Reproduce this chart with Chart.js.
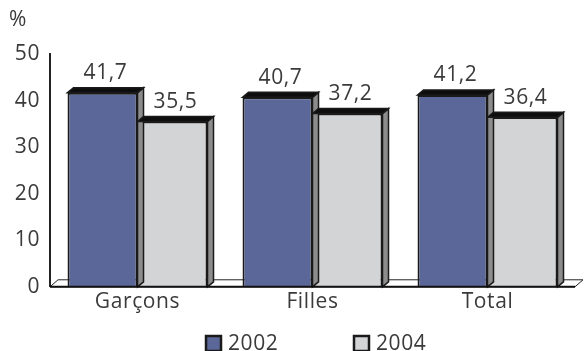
<!DOCTYPE html>
<html>
<head>
<meta charset="utf-8">
<script src="https://cdn.jsdelivr.net/npm/chart.js@4/dist/chart.umd.min.js"></script>
<style>
  html, body { margin: 0; padding: 0; background: #fff; }
  #wrap { width: 584px; height: 351px; position: relative; }
</style>
</head>
<body>
<div id="wrap"><canvas id="chart"></canvas></div>
<script>
const categories = ['Garçons', 'Filles', 'Total'];
const values2002 = [41.7, 40.7, 41.2];
const values2004 = [35.5, 37.2, 36.4];
const seriesLabels = ['2002', '2004'];

const FONT = "'Open Sans', 'DejaVu Sans', sans-serif";
const SIZE = 21;
const TEXT = '#3a3a3a';
const DX = 6, DY = 5; // depth offset for the 3d look

// draws floor, bar sides/tops, value labels and the legend
const depthPlugin = {
  id: 'depth',
  beforeDraw(chart) {
    chart.ctx.letterSpacing = '0.6px';
  },
  beforeDatasetsDraw(chart) {
    const { ctx, chartArea } = chart;
    const y0 = chart.scales.y.getPixelForValue(0);
    ctx.save();
    ctx.fillStyle = '#ffffff';
    ctx.strokeStyle = '#222';
    ctx.lineWidth = 1;
    ctx.beginPath();
    ctx.moveTo(chartArea.left, y0);
    ctx.lineTo(chartArea.left + DX + 2, y0 - DY - 2);
    ctx.lineTo(chartArea.right + DX + 2, y0 - DY - 2);
    ctx.lineTo(chartArea.right, y0);
    ctx.closePath();
    ctx.fill();
    ctx.stroke();
    ctx.restore();
  },
  afterDatasetsDraw(chart) {
    const { ctx } = chart;
    ctx.save();
    chart.data.datasets.forEach((ds, i) => {
      chart.getDatasetMeta(i).data.forEach((bar, j) => {
        const left = bar.x - bar.width / 2;
        const right = bar.x + bar.width / 2;
        const top = bar.y;
        const bottom = bar.base;
        ctx.lineWidth = 1.5;
        ctx.strokeStyle = '#1a1a1a';
        // side face
        ctx.fillStyle = '#8c8c8c';
        ctx.beginPath();
        ctx.moveTo(right, top);
        ctx.lineTo(right + DX, top - DY);
        ctx.lineTo(right + DX, bottom - DY);
        ctx.lineTo(right, bottom);
        ctx.closePath();
        ctx.fill();
        ctx.stroke();
        // top face
        ctx.fillStyle = '#0d0d0d';
        ctx.beginPath();
        ctx.moveTo(left, top);
        ctx.lineTo(left + DX, top - DY);
        ctx.lineTo(right + DX, top - DY);
        ctx.lineTo(right, top);
        ctx.closePath();
        ctx.fill();
        ctx.stroke();
        // value label
        ctx.fillStyle = TEXT;
        ctx.font = SIZE + 'px ' + FONT;
        ctx.textAlign = 'center';
        ctx.textBaseline = 'bottom';
        ctx.fillText(String(ds.data[j]).replace('.', ','), bar.x + 3, top - DY - 4);
      });
    });
    // bottom edge line
    const y0 = chart.scales.y.getPixelForValue(0);
    ctx.strokeStyle = '#111';
    ctx.lineWidth = 2;
    ctx.beginPath();
    ctx.moveTo(chart.chartArea.left, y0);
    ctx.lineTo(chart.chartArea.right, y0);
    ctx.stroke();
    // percent sign
    ctx.fillStyle = TEXT;
    ctx.font = SIZE + 'px ' + FONT;
    ctx.textAlign = 'left';
    ctx.textBaseline = 'middle';
    ctx.fillText('%', 9, 20);
    // legend
    const legendX = [206, 354];
    chart.data.datasets.forEach((ds, i) => {
      const x = legendX[i], y = 343;
      ctx.fillStyle = ds.backgroundColor;
      ctx.fillRect(x, y - 7, 15, 15);
      ctx.strokeStyle = '#1a1a1a';
      ctx.lineWidth = 2.5;
      ctx.strokeRect(x, y - 7, 15, 15);
      ctx.fillStyle = TEXT;
      ctx.textBaseline = 'middle';
      ctx.fillText(ds.label, x + 22, y + 1);
    });
    ctx.restore();
  }
};

new Chart(document.getElementById('chart'), {
  type: 'bar',
  data: {
    labels: categories,
    datasets: [
      {
        label: seriesLabels[0],
        data: values2002,
        backgroundColor: '#5b6799',
        borderColor: '#1a1a1a',
        borderWidth: 2
      },
      {
        label: seriesLabels[1],
        data: values2004,
        backgroundColor: '#d3d4d6',
        borderColor: '#1a1a1a',
        borderWidth: 2
      }
    ]
  },
  options: {
    responsive: true,
    maintainAspectRatio: false,
    animation: false,
    layout: { padding: { top: 54, right: 9, left: 6, bottom: 33 } },
    datasets: { bar: { categoryPercentage: 0.8, barPercentage: 1.0 } },
    scales: {
      x: {
        grid: { display: false, drawTicks: false },
        border: { display: false },
        ticks: { color: TEXT, font: { family: FONT, size: SIZE }, padding: 3 }
      },
      y: {
        min: 0,
        max: 50,
        grid: { display: false, drawTicks: false },
        border: { display: true, color: '#222', width: 2 },
        ticks: { stepSize: 10, color: TEXT, font: { family: FONT, size: SIZE }, padding: 10 }
      }
    },
    plugins: {
      legend: { display: false },
      tooltip: { enabled: false }
    }
  },
  plugins: [depthPlugin]
});
</script>
</body>
</html>
